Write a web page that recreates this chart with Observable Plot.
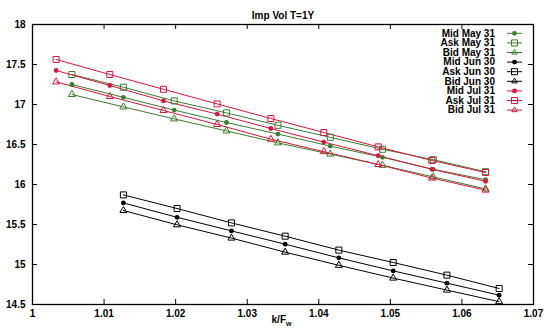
<!DOCTYPE html>
<html><head><meta charset="utf-8">
<script src="https://cdn.jsdelivr.net/npm/d3@7"></script>
<script src="https://cdn.jsdelivr.net/npm/@observablehq/plot@0.6"></script>
<style>body{margin:0;background:#fff} svg{display:block}</style>
</head><body><div id="chart"></div>
<script>
const title = "Imp Vol T=1Y";
const xTicks = [1, 1.01, 1.02, 1.03, 1.04, 1.05, 1.06, 1.07];
const yTicks = [14.5, 15, 15.5, 16, 16.5, 17, 17.5, 18];

const kMay   = [1.0055, 1.0127, 1.0198, 1.0271, 1.0343, 1.0416, 1.0489, 1.0560, 1.0633];
const midMay = [17.25, 17.09, 16.93, 16.775, 16.63, 16.48, 16.34, 16.19, 16.06];
const askMay = [17.375, 17.216, 17.045, 16.895, 16.74, 16.59, 16.44, 16.31, 16.16];
const bidMay = [17.125, 16.97, 16.82, 16.67, 16.52, 16.38, 16.24, 16.095, 15.945];

const kJun   = [1.0127, 1.0202, 1.0278, 1.0353, 1.0428, 1.0504, 1.0579, 1.0652];
const midJun = [15.77, 15.59, 15.42, 15.254, 15.083, 14.92, 14.767, 14.617];
const askJun = [15.87, 15.70, 15.52, 15.354, 15.18, 15.025, 14.867, 14.70];
const bidJun = [15.675, 15.496, 15.33, 15.154, 14.99, 14.83, 14.68, 14.535];

const kJul   = [1.0033, 1.0108, 1.0183, 1.0258, 1.0333, 1.0407, 1.0483, 1.0558, 1.0633];
const midJul = [17.425, 17.2375, 17.045, 16.88, 16.70, 16.53, 16.36, 16.19, 16.04];
const askJul = [17.5625, 17.375, 17.19, 17.0075, 16.825, 16.65, 16.47, 16.30, 16.15];
const bidJul = [17.2825, 17.10, 16.925, 16.75, 16.566, 16.41, 16.25, 16.08, 15.93];

const seriesNames = ["Mid May 31", "Ask May 31", "Bid May 31", "Mid Jun 30", "Ask Jun 30", "Bid Jun 30", "Mid Jul 31", "Ask Jul 31", "Bid Jul 31"];
const seriesColors = ["#3b7d2c", "#3b7d2c", "#3b7d2c", "#000000", "#000000", "#000000", "#dc143c", "#dc143c", "#dc143c"];
const seriesKinds = ["Mid", "Ask", "Bid", "Mid", "Ask", "Bid", "Mid", "Ask", "Bid"];
const seriesK = [kMay, kMay, kMay, kJun, kJun, kJun, kJul, kJul, kJul];
const seriesV = [midMay, askMay, bidMay, midJun, askJun, bidJun, midJul, askJul, bidJul];

const rows = [];
seriesNames.forEach((name, i) => {
  seriesK[i].forEach((k, j) => rows.push({name, kind: seriesKinds[i], k, v: seriesV[i][j]}));
});

const W = 544, H = 332, mL = 32, mR = 11, mT = 24, mB = 28;
const fw = W - mL - mR, fh = H - mT - mB;
const fmt = d => String(+d.toFixed(2));
const symbolR = {Mid: 2.4, Ask: 3.4, Bid: 2.6};

const plot = Plot.plot({
  width: W, height: H,
  marginLeft: mL, marginRight: mR, marginTop: mT, marginBottom: mB,
  style: {fontFamily: "'Liberation Sans', Arial, sans-serif", fontSize: "10px", fontWeight: "bold", background: "#fff", color: "#000"},
  x: {domain: [1, 1.07]},
  y: {domain: [14.5, 18]},
  color: {domain: seriesNames, range: seriesColors},
  marks: [
    Plot.axisX(xTicks, {tickSize: 0, tickPadding: 5, tickFormat: fmt, label: null}),
    Plot.axisY(yTicks, {tickSize: 0, tickPadding: 7, tickFormat: fmt, label: null}),
    Plot.tickX(xTicks, {x: d => d, insetTop: fh - 5, stroke: "#000"}),
    Plot.tickX(xTicks, {x: d => d, insetBottom: fh - 5, stroke: "#000"}),
    Plot.tickY(yTicks, {y: d => d, insetRight: fw - 5, stroke: "#000"}),
    Plot.tickY(yTicks, {y: d => d, insetLeft: fw - 5, stroke: "#000"}),
    Plot.line(rows, {x: "k", y: "v", z: "name", stroke: "name", strokeWidth: 1}),
    Plot.dot(rows.filter(d => d.kind === "Mid"), {x: "k", y: "v", fill: "name", r: symbolR.Mid, symbol: "circle"}),
    Plot.dot(rows.filter(d => d.kind === "Ask"), {x: "k", y: "v", stroke: "name", r: symbolR.Ask, symbol: "square", strokeWidth: 1}),
    Plot.dot(rows.filter(d => d.kind === "Bid"), {x: "k", y: "v", stroke: "name", r: symbolR.Bid, symbol: "triangle", strokeWidth: 1}),
    Plot.frame({stroke: "#000", strokeWidth: 1.3}),
    Plot.text([title], {frameAnchor: "top", dy: -13, fontSize: 10, fontWeight: "bold"}),
    Plot.text(["k/F"], {frameAnchor: "bottom", dy: 18, dx: 3, textAnchor: "end", fontSize: 10, fontWeight: "bold"}),
    Plot.text(["w"], {frameAnchor: "bottom", dy: 21, dx: 3, textAnchor: "start", fontSize: 7, fontWeight: "bold"})
  ]
});
document.getElementById("chart").appendChild(plot);

// legend (inside the plot, top right)
const svg = d3.select(plot);
const right = mL + fw;
const lg = svg.append("g").attr("font-family", "'Liberation Sans', Arial, sans-serif").attr("font-size", 10).attr("font-weight", "bold");
seriesNames.forEach((name, i) => {
  const y = mT + 9.3 + 9.6 * i;
  const c = seriesColors[i];
  lg.append("text").attr("x", right - 38).attr("y", y).attr("dy", "0.32em").attr("text-anchor", "end").attr("fill", "#000").text(name);
  lg.append("line").attr("x1", right - 26).attr("x2", right - 11).attr("y1", y).attr("y2", y).attr("stroke", c);
  const kind = seriesKinds[i];
  const sym = kind === "Mid" ? d3.symbolCircle : kind === "Ask" ? d3.symbolSquare : d3.symbolTriangle2;
  const r = symbolR[kind];
  lg.append("path").attr("transform", `translate(${right - 18.5},${y})`)
    .attr("d", d3.symbol(sym, r * r * Math.PI)())
    .attr("fill", kind === "Mid" ? c : "none").attr("stroke", kind === "Mid" ? "none" : c);
});
</script></body></html>
